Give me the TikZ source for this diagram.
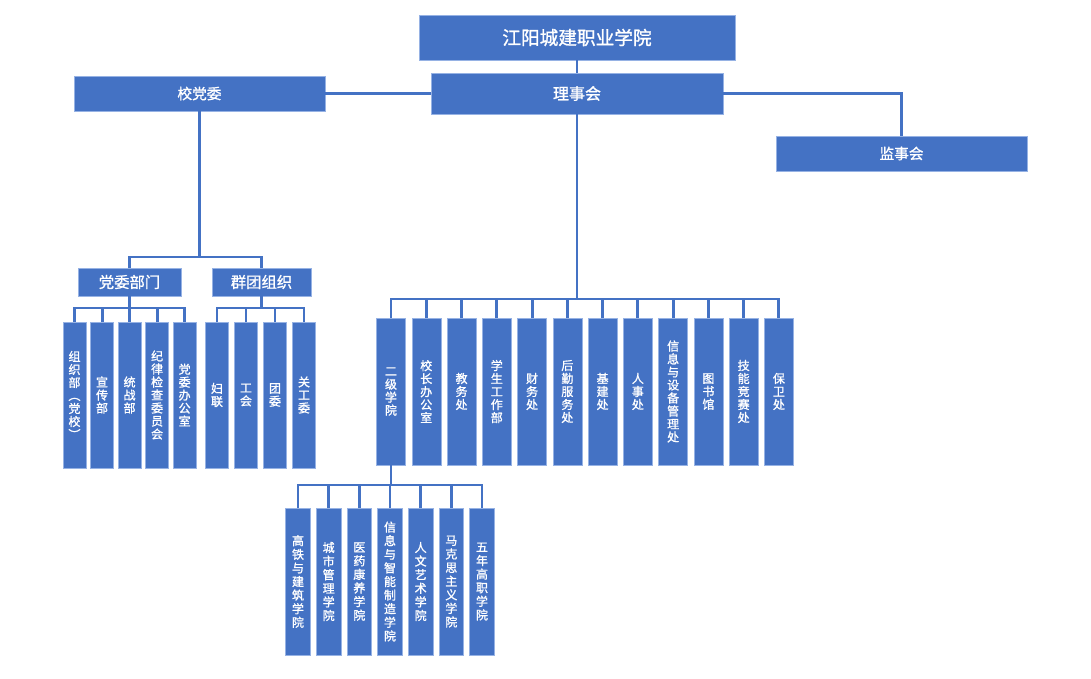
\documentclass[tikz,border=0pt]{standalone}
\usepackage{fontspec}
\setmainfont{Noto Sans CJK SC}[FakeBold=1.2]
\usepackage{xcolor}
\usetikzlibrary{positioning}
\definecolor{boxblue}{RGB}{68,114,196}
\definecolor{edgeblue}{RGB}{150,178,228}
\tikzstyle{unit} = [rectangle, draw=edgeblue, line width=0.4pt, fill=boxblue, text=white, inner sep=0pt, outer sep=0pt, text centered]
\tikzstyle{head} = [unit, font=\fontsize{11.5}{12}\selectfont]
\tikzstyle{partycol} = [unit, minimum width=17.25pt, minimum height=109.5pt, align=center, font=\fontsize{9}{9.75}\selectfont]
\tikzstyle{officecol} = [unit, minimum width=21.75pt, minimum height=110.25pt, align=center, font=\fontsize{9}{9.75}\selectfont]
\tikzstyle{schoolcol} = [unit, minimum width=18.4pt, minimum height=110.25pt, align=center, font=\fontsize{9}{10.2}\selectfont]
\tikzstyle{link} = [draw=boxblue, line width=2.2pt]

\begin{document}
\begin{tikzpicture}[x=0.75pt, y=-0.75pt]
	\useasboundingbox (0,0) rectangle (1091,678);

	% top level
	\node (college) [unit, minimum width=237pt, minimum height=33.75pt, font=\fontsize{14}{15}\selectfont] at (577,37.5) {江阳城建职业学院};
	\node (board) [unit, minimum width=219pt, minimum height=30.75pt, font=\fontsize{12}{13}\selectfont] at (577,93.5) {理事会};
	\node (party) [head, minimum width=188.25pt, minimum height=26.25pt, font=\fontsize{11}{12}\selectfont] at (199.5,93.5) {校党委};
	\node (super) [head, minimum width=188.25pt, minimum height=26.25pt, font=\fontsize{11}{12}\selectfont] at (901.5,153.5) {监事会};

	% party side
	\node (pdept) [head, minimum width=77.25pt, minimum height=21pt] at (129.5,282) {党委部门};
	\node (mass) [head, minimum width=74.25pt, minimum height=21pt] at (261.5,282) {群团组织};

	\node (p1) [partycol] at (74.5,395) {组\\织\\部\\︵\\党\\校\\︶};
	\node (p2) [partycol, right=3.4pt of p1] {宣\\传\\部};
	\node (p3) [partycol, right=3.4pt of p2] {统\\战\\部};
	\node (p4) [partycol, right=3.4pt of p3] {纪\\律\\检\\查\\委\\员\\会};
	\node (p5) [partycol, right=3.4pt of p4] {党\\委\\办\\公\\室};

	\node (m1) [partycol] at (217,395) {妇\\联};
	\node (m2) [partycol, right=4.5pt of m1] {工\\会};
	\node (m3) [partycol, right=4.5pt of m2] {团\\委};
	\node (m4) [partycol, right=4.5pt of m3] {关\\工\\委};

	% offices
	\node (o1) [officecol] at (391,391.5) {二\\级\\学\\院};
	\node (o2) [officecol, right=4.7pt of o1] {校\\长\\办\\公\\室};
	\node (o3) [officecol, right=4.7pt of o2] {教\\务\\处};
	\node (o4) [officecol, right=4.7pt of o3] {学\\生\\工\\作\\部};
	\node (o5) [officecol, right=4.7pt of o4] {财\\务\\处};
	\node (o6) [officecol, right=4.7pt of o5] {后\\勤\\服\\务\\处};
	\node (o7) [officecol, right=4.7pt of o6] {基\\建\\处};
	\node (o8) [officecol, right=4.7pt of o7] {人\\事\\处};
	\node (o9) [officecol, right=4.7pt of o8] {信\\息\\与\\设\\备\\管\\理\\处};
	\node (o10) [officecol, right=4.7pt of o9] {图\\书\\馆};
	\node (o11) [officecol, right=4.7pt of o10] {技\\能\\竞\\赛\\处};
	\node (o12) [officecol, right=4.7pt of o11] {保\\卫\\处};

	% schools
	\node (s1) [schoolcol] at (298,581.5) {高\\铁\\与\\建\\筑\\学\\院};
	\node (s2) [schoolcol, right=4.6pt of s1] {城\\市\\管\\理\\学\\院};
	\node (s3) [schoolcol, right=4.6pt of s2] {医\\药\\康\\养\\学\\院};
	\node (s4) [schoolcol, right=4.6pt of s3] {信\\息\\与\\智\\能\\制\\造\\学\\院};
	\node (s5) [schoolcol, right=4.6pt of s4] {人\\文\\艺\\术\\学\\院};
	\node (s6) [schoolcol, right=4.6pt of s5] {马\\克\\思\\主\\义\\学\\院};
	\node (s7) [schoolcol, right=4.6pt of s6] {五\\年\\高\\职\\学\\院};

	% bus points
	\coordinate (partybus) at (199.5,257);
	\coordinate (pbus) at (129.5,308);
	\coordinate (mbus) at (261.5,308);
	\coordinate (obus) at (577,299);
	\coordinate (sbus) at (391,485);

	% connectors
	\draw [link] (college) -- (board);
	\draw [link] (party) -- (board);
	\draw [link] (board.east) -| (super.north);
	\draw [link] (party.south) -- (partybus);
	\draw [link] (pdept.north) |- (partybus) -| (mass.north);

	\draw [link] (pdept.south) -- (pbus);
	\draw [link] (p1.north) |- (pbus) -| (p5.north);
	\draw [link] (p2.north) -- (p2.north |- pbus) (p3.north) -- (p3.north |- pbus) (p4.north) -- (p4.north |- pbus);

	\draw [link] (mass.south) -- (mbus);
	\draw [link] (m1.north) |- (mbus) -| (m4.north);
	\draw [link] (m2.north) -- (m2.north |- mbus) (m3.north) -- (m3.north |- mbus);

	\draw [link] (board.south) -- (obus);
	\draw [link] (o1.north) |- (obus) -| (o12.north);
	\draw [link] (o2.north) -- (o2.north |- obus) (o3.north) -- (o3.north |- obus) (o4.north) -- (o4.north |- obus)
		(o5.north) -- (o5.north |- obus) (o6.north) -- (o6.north |- obus) (o7.north) -- (o7.north |- obus)
		(o8.north) -- (o8.north |- obus) (o9.north) -- (o9.north |- obus) (o10.north) -- (o10.north |- obus)
		(o11.north) -- (o11.north |- obus);

	\draw [link] (o1.south) -- (sbus);
	\draw [link] (s1.north) |- (sbus) -| (s7.north);
	\draw [link] (s2.north) -- (s2.north |- sbus) (s3.north) -- (s3.north |- sbus) (s4.north) -- (s4.north |- sbus)
		(s5.north) -- (s5.north |- sbus) (s6.north) -- (s6.north |- sbus);
\end{tikzpicture}
\end{document}
